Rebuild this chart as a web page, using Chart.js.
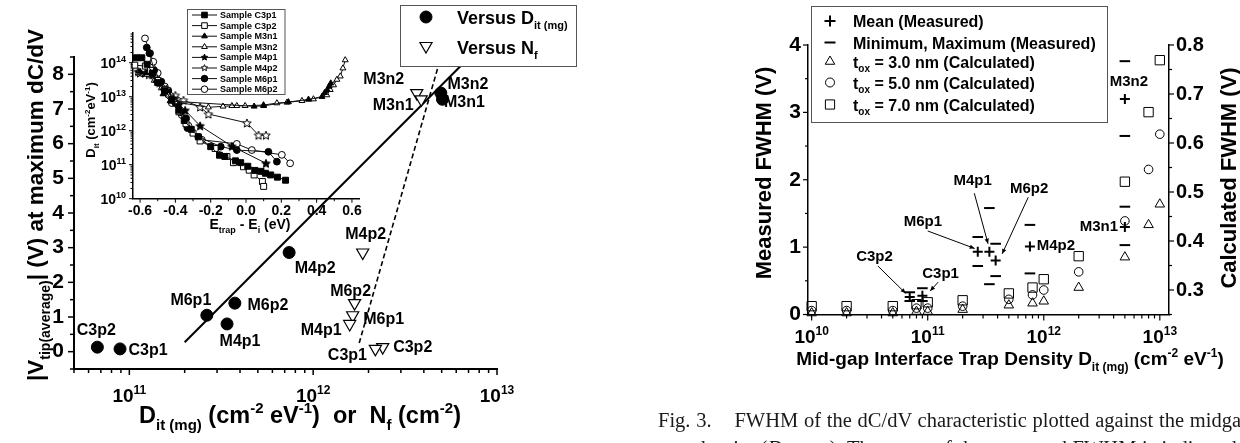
<!DOCTYPE html>
<html>
<head>
<meta charset="utf-8">
<title>Vtip and FWHM versus interface trap density</title>
<script src="https://cdn.jsdelivr.net/npm/chart.js@4.4.1/dist/chart.umd.min.js"></script>
<style>
  html, body { margin: 0; padding: 0; background: #fff; }
  body { width: 1240px; height: 443px; overflow: hidden; position: relative; }
  canvas { position: absolute; left: 0; top: 0; }
  #caption { position: absolute; left: 658px; top: 406px; font-family: "Liberation Serif", "Times New Roman", serif;
             font-size: 20.5px; word-spacing: 0.6px; line-height: 28px; color: #1a1a1a; white-space: nowrap; }
</style>
</head>
<body>
<canvas id="vtipChart" width="1240" height="443"></canvas>
<canvas id="dosChart" width="1240" height="443"></canvas>
<canvas id="fwhmChart" width="1240" height="443"></canvas>
<div id="caption">Fig. 3.&nbsp;&nbsp;&nbsp;&nbsp;FWHM of the dC/dV characteristic plotted against the midgap interface<br>trap density (<i>D</i><sub>it (mg)</sub>). The mean of the measured FWHM is indicated</div>
<script>
// ---- left panel: |Vtip(average)| at maximum dC/dV ----
const samples = ['C3p2', 'C3p1', 'M6p1', 'M4p1', 'M6p2', 'M4p2', 'M3n2', 'M3n1'];
const ditMg = [6.7e10, 8.9e10, 2.64e11, 3.4e11, 3.75e11, 7.4e11, 4.95e12, 5.05e12];
const nf = [2.39e12, 2.18e12, 1.64e12, 1.58e12, 1.68e12, 1.86e12, 3.66e12, 3.87e12];
const vtip = [0.13, 0.08, 1.05, 0.80, 1.40, 2.86, 7.46, 7.28];
const vtipTicks = [0, 1, 2, 3, 4, 5, 6, 7, 8];
// straight line fits, end points
const fitDitX = [2.0e11, 7.1e12];
const fitDitY = [0.27, 8.5];
const fitNfX = [1.78e12, 4.95e12];
const fitNfY = [0.25, 8.5];

// ---- inset: Dit spectra, [Etrap - Ei (eV), Dit (cm-2 eV-1)] ----
const specC3p1 = [[-0.62,1.4e14],[-0.59,1.4e14],[-0.56,9e13],[-0.53,5e13],[-0.5,2.6e13],[-0.46,1.5e13],[-0.42,8e12],[-0.38,4e12],[-0.35,2e12],[-0.31,1.1e12],[-0.27,6.6e11],[-0.2,3.4e11],[-0.15,1.9e11],[-0.12,1.75e11],[-0.06,1.3e11],[-0.03,1.15e11],[0.01,9e10],[0.05,6.8e10],[0.085,6.4e10],[0.11,5.6e10],[0.14,5e10],[0.178,4.3e10],[0.224,3.5e10]];
const specC3p2 = [[-0.63,8.5e13],[-0.57,8e13],[-0.54,6e13],[-0.5,3e13],[-0.46,1.6e13],[-0.42,8e12],[-0.38,3.6e12],[-0.34,1.6e12],[-0.3,8.5e11],[-0.26,5e11],[-0.175,3e11],[-0.108,1.75e11],[-0.071,1.15e11],[-0.014,8.7e10],[0.018,6.9e10],[0.046,5e10],[0.093,3.2e10],[0.1,2.3e10]];
const specM3n1 = [[-0.6,5.5e13],[-0.56,5e13],[-0.51,3e13],[-0.47,1.2e13],[-0.43,7.5e12],[0.046,5.2e12],[0.1,5.4e12],[0.24,7e12],[0.354,8.3e12],[0.43,1e13],[0.445,1.3e13],[0.46,1.6e13],[0.47,2e13],[0.48,2.5e13]];
const specM3n2 = [[-0.61,5e13],[-0.56,4.5e13],[-0.52,3e13],[-0.48,1.8e13],[-0.44,1.1e13],[-0.4,7e12],[-0.213,4.9e12],[-0.13,5.2e12],[-0.08,5.4e12],[-0.052,5.4e12],[-0.005,5.4e12],[0.099,5.7e12],[0.175,6.5e12],[0.232,6.8e12],[0.317,7.6e12],[0.382,8.5e12],[0.458,1.12e13],[0.477,1.6e13],[0.496,2.2e13],[0.515,3.2e13],[0.534,4e13],[0.549,6.9e13],[0.562,1.2e14]];
const specM4p1 = [[-0.61,5.5e13],[-0.57,5e13],[-0.53,4.5e13],[-0.49,2.6e13],[-0.45,1.5e13],[-0.41,9e12],[-0.38,6e12],[-0.345,4e12],[-0.26,1.4e12],[-0.08,3.5e11],[0.113,1.1e11]];
const specM4p2 = [[-0.6,5e13],[-0.55,4.5e13],[-0.5,3e13],[-0.45,1.7e13],[-0.4,1.1e13],[-0.354,7.9e12],[-0.26,5e12],[-0.213,3.1e12],[0.005,1.7e12],[0.071,7.4e11],[0.113,7.4e11]];
const specM6p1 = [[-0.562,2.8e14],[-0.547,1.9e14],[-0.52,6e13],[-0.48,2.8e13],[-0.44,1.5e13],[-0.4,6.5e12],[-0.37,3.5e12],[-0.339,2.3e12],[-0.332,1.2e12],[-0.27,6.6e11],[-0.143,3.4e11],[-0.052,2.7e11],[0.127,2.4e11],[0.175,1.23e11]];
const specM6p2 = [[-0.572,5.2e14],[-0.543,1.9e14],[-0.525,1.07e14],[-0.5,5e13],[-0.46,2e13],[-0.42,6.5e12],[-0.364,2.9e12],[-0.326,1.4e12],[-0.25,5.4e11],[-0.052,4.1e11],[0.033,2.7e11],[0.203,1.95e11],[0.25,1.1e11]];
const dosETicks = [-0.6, -0.4, -0.2, 0.0, 0.2, 0.4, 0.6];

// ---- right panel: FWHM of dC/dV ----
const ditGrid = [1e10, 2e10, 5e10, 8e10, 1e11, 2e11, 5e11, 8e11, 1e12, 2e12, 5e12, 8e12, 1e13];
const fwhmCalc30 = [0.253, 0.253, 0.253, 0.256, 0.256, 0.260, 0.269, 0.273, 0.277, 0.305, 0.367, 0.433, 0.475];
const fwhmCalc50 = [0.258, 0.258, 0.258, 0.263, 0.263, 0.267, 0.281, 0.290, 0.300, 0.337, 0.441, 0.546, 0.618];
const fwhmCalc70 = [0.267, 0.267, 0.267, 0.271, 0.275, 0.279, 0.293, 0.305, 0.322, 0.369, 0.521, 0.663, 0.769];
const measSamples = ['C3p2', 'C3p1', 'M6p1', 'M4p1', 'M6p2', 'M4p2', 'M3n1', 'M3n2'];
const measDit = [7.0e10, 9.0e10, 2.7e11, 3.4e11, 3.85e11, 7.6e11, 5e12, 5e12];
const fwhmMean = [0.26, 0.28, 0.93, 0.93, 0.80, 1.01, 1.30, 3.20];
const fwhmMin = [0.20, 0.20, 0.72, 0.45, 0.57, 0.61, 1.03, 2.65];
const fwhmMax = [0.33, 0.39, 1.15, 1.58, 1.05, 1.33, 1.60, 3.76];
const fwhmTicks = [0, 1, 2, 3, 4];
const calcTicks = [0.3, 0.4, 0.5, 0.6, 0.7, 0.8];

// ---------------------------------------------------------------
const FAMILY = '"Liberation Sans", Arial, Helvetica, sans-serif';
const bold = size => 'bold ' + size + 'px ' + FAMILY;
Chart.defaults.font.family = FAMILY;
Chart.defaults.color = '#000';

// text with sub/superscripts, parts: [{t, k: 'sub'|'sup'}]
function drawRich(ctx, parts, x, y, size, align) {
  const items = parts.map(p => {
    const s = p.k ? Math.round(size * 0.62) : size;
    ctx.font = bold(s);
    return { t: p.t, s, w: ctx.measureText(p.t).width, dy: p.k === 'sub' ? size * 0.3 : p.k === 'sup' ? -size * 0.42 : 0 };
  });
  const total = items.reduce((a, b) => a + b.w, 0);
  let cx = align === 'left' ? x : align === 'right' ? x - total : x - total / 2;
  ctx.save();
  ctx.fillStyle = '#000';
  ctx.textAlign = 'left';
  ctx.textBaseline = 'alphabetic';
  items.forEach(it => { ctx.font = bold(it.s); ctx.fillText(it.t, cx, y + it.dy); cx += it.w; });
  ctx.restore();
}
function drawRichUp(ctx, parts, x, y, size) {
  ctx.save();
  ctx.translate(x, y);
  ctx.rotate(-Math.PI / 2);
  drawRich(ctx, parts, 0, 0, size, 'center');
  ctx.restore();
}
const pow10 = v => [{ t: '10' }, { t: String(Math.round(Math.log10(v))), k: 'sup' }];

// tick marks, drawn through the chart scales
function logMarks(scale) {
  const major = [], minor = [];
  const lo = Math.floor(Math.log10(scale.min)), hi = Math.ceil(Math.log10(scale.max));
  for (let e = lo; e <= hi; e++) {
    for (let k = 1; k <= 9; k++) {
      const v = k * Math.pow(10, e);
      if (v >= scale.min * 0.999 && v <= scale.max * 1.001) (k === 1 ? major : minor).push(v);
    }
  }
  return { major, minor };
}
function linMarks(scale, step, minorStep) {
  const major = [], minor = [];
  const n0 = Math.ceil(scale.min / minorStep - 1e-6), n1 = Math.floor(scale.max / minorStep + 1e-6);
  for (let n = n0; n <= n1; n++) {
    const v = n * minorStep, r = v / step;
    (Math.abs(r - Math.round(r)) < 1e-6 ? major : minor).push(v);
  }
  return { major, minor };
}
function drawMarks(chart, id, side, marks, lenMajor, lenMinor, width) {
  const { ctx, chartArea: a } = chart;
  const scale = chart.scales[id];
  ctx.save();
  ctx.strokeStyle = '#000';
  ctx.lineWidth = width;
  const one = (v, len) => {
    const p = scale.getPixelForValue(v);
    ctx.beginPath();
    if (side === 'bottom') { ctx.moveTo(p, a.bottom); ctx.lineTo(p, a.bottom + len); }
    else if (side === 'left') { ctx.moveTo(a.left, p); ctx.lineTo(a.left - len, p); }
    else { ctx.moveTo(a.right, p); ctx.lineTo(a.right + len, p); }
    ctx.stroke();
  };
  marks.major.forEach(v => one(v, lenMajor));
  marks.minor.forEach(v => one(v, lenMinor));
  ctx.restore();
}

// marker shapes for hand drawn legends
function starPath(g, cx, cy, r) {
  g.beginPath();
  for (let i = 0; i < 10; i++) {
    const rr = i % 2 ? r * 0.45 : r;
    const ang = -Math.PI / 2 + i * Math.PI / 5;
    const px = cx + rr * Math.cos(ang), py = cy + rr * Math.sin(ang);
    if (i) g.lineTo(px, py); else g.moveTo(px, py);
  }
  g.closePath();
}
function starImage(filled, r) {
  const size = Math.ceil(r * 2 + 3);
  const c = document.createElement('canvas');
  c.width = size; c.height = size;
  const g = c.getContext('2d');
  starPath(g, size / 2, size / 2 + 0.5, r);
  g.fillStyle = filled ? '#000' : '#fff';
  g.fill();
  g.lineWidth = 1;
  g.strokeStyle = '#000';
  g.stroke();
  return c;
}
function drawSymbol(ctx, kind, x, y, r, filled, lw) {
  ctx.save();
  ctx.strokeStyle = '#000';
  ctx.fillStyle = filled ? '#000' : '#fff';
  ctx.lineWidth = lw || 1;
  ctx.beginPath();
  if (kind === 'circle') ctx.arc(x, y, r, 0, Math.PI * 2);
  else if (kind === 'rect') ctx.rect(x - r * 0.707, y - r * 0.707, r * 1.414, r * 1.414);
  else if (kind === 'triangle') { ctx.moveTo(x, y - r); ctx.lineTo(x + r * 0.866, y + r / 2); ctx.lineTo(x - r * 0.866, y + r / 2); ctx.closePath(); }
  else if (kind === 'triangleDown') { ctx.moveTo(x, y + r); ctx.lineTo(x + r * 0.866, y - r / 2); ctx.lineTo(x - r * 0.866, y - r / 2); ctx.closePath(); }
  else if (kind === 'star') starPath(ctx, x, y, r);
  else if (kind === 'cross') { ctx.moveTo(x - r, y); ctx.lineTo(x + r, y); ctx.moveTo(x, y - r); ctx.lineTo(x, y + r); ctx.stroke(); ctx.restore(); return; }
  else if (kind === 'line') { ctx.moveTo(x - r, y); ctx.lineTo(x + r, y); ctx.stroke(); ctx.restore(); return; }
  ctx.fill();
  ctx.stroke();
  ctx.restore();
}
function box(ctx, x, y, w, h) {
  ctx.save();
  ctx.fillStyle = '#fff';
  ctx.fillRect(x, y, w, h);
  ctx.strokeStyle = '#555';
  ctx.lineWidth = 1;
  ctx.strokeRect(x, y, w, h);
  ctx.restore();
}

// ---------------- left panel ----------------
const dotLabelShift = [[-1, -17], [28, 2], [-16, -15], [13, 18], [33, 2], [26, 16], [27, -8], [22, 3]];
const triLabelShift = [[30, 0], [-28, 6.5], [31, 4], [-28.5, 7], [-4, -12], [3, -18], [-33, -13], [-28, 6.5]];

const vtipDecor = {
  id: 'vtipDecor',
  afterDraw(chart) {
    const { ctx, scales: { x } } = chart;
    drawMarks(chart, 'x', 'bottom', logMarks(x), 6, 4, 1.5);
    drawMarks(chart, 'y', 'left', linMarks(chart.scales.y, 1, 0.5), 6, 4, 1.5);
    logMarks(x).major.forEach(v => drawRich(ctx, pow10(v), x.getPixelForValue(v), 402, 19, 'center'));

    drawRichUp(ctx, [{ t: '|V' }, { t: 'tip(average)', k: 'sub' }, { t: '| (V) at maximum dC/dV' }], 43, 205, 22.5);
    drawRich(ctx, [{ t: 'D' }, { t: 'it (mg)', k: 'sub' }, { t: ' (cm' }, { t: '-2', k: 'sup' }, { t: ' eV' }, { t: '-1', k: 'sup' },
      { t: ')  or  N' }, { t: 'f', k: 'sub' }, { t: ' (cm' }, { t: '-2', k: 'sup' }, { t: ')' }], 300, 423, 23.5, 'center');

    ctx.save();
    ctx.font = bold(16);
    ctx.fillStyle = '#000';
    ctx.textAlign = 'center';
    ctx.textBaseline = 'middle';
    const dots = chart.getDatasetMeta(0).data, tris = chart.getDatasetMeta(1).data;
    samples.forEach((s, i) => {
      ctx.fillText(s, dots[i].x + dotLabelShift[i][0], dots[i].y + dotLabelShift[i][1]);
      ctx.fillText(s, tris[i].x + triLabelShift[i][0], tris[i].y + triLabelShift[i][1]);
    });
    ctx.restore();

    box(ctx, 400.5, 5.5, 176, 61);
    drawSymbol(ctx, 'circle', 426, 17, 6, true);
    drawRich(ctx, [{ t: 'Versus D' }, { t: 'it (mg)', k: 'sub' }], 457, 23.5, 18, 'left');
    drawSymbol(ctx, 'triangleDown', 426, 46, 7, false, 1.2);
    drawRich(ctx, [{ t: 'Versus N' }, { t: 'f', k: 'sub' }], 457, 53.5, 18, 'left');
  }
};

new Chart(document.getElementById('vtipChart'), {
  type: 'scatter',
  data: {
    datasets: [
      { label: 'Versus Dit(mg)', data: samples.map((s, i) => ({ x: ditMg[i], y: vtip[i] })), pointStyle: 'circle', pointRadius: 6,
        pointBackgroundColor: '#000', pointBorderColor: '#000', pointBorderWidth: 1, clip: false },
      { label: 'Versus Nf', data: samples.map((s, i) => ({ x: nf[i], y: vtip[i] })), pointStyle: 'triangle', pointRotation: 180, pointRadius: 7,
        pointBackgroundColor: '#fff', pointBorderColor: '#000', pointBorderWidth: 1.2, clip: false },
      { label: 'fit Dit', data: fitDitX.map((x, i) => ({ x, y: fitDitY[i] })), showLine: true, borderColor: '#000', borderWidth: 2, pointRadius: 0, clip: false },
      { label: 'fit Nf', data: fitNfX.map((x, i) => ({ x, y: fitNfY[i] })), showLine: true, borderColor: '#000', borderWidth: 1.6, borderDash: [5, 3], pointRadius: 0, clip: false }
    ]
  },
  options: {
    responsive: false,
    animation: false,
    events: [],
    layout: { padding: { left: 0, top: 57, right: 743, bottom: 0 } },
    plugins: { legend: { display: false }, tooltip: { enabled: false } },
    scales: {
      x: {
        type: 'logarithmic', min: 5e10, max: 1e13,
        grid: { display: false, drawTicks: false },
        border: { display: true, color: '#000', width: 2 },
        ticks: { display: false },
        afterFit: s => { s.height = 74; }
      },
      y: {
        type: 'linear', min: -0.5, max: 8.5,
        grid: { display: false, drawTicks: false },
        border: { display: true, color: '#000', width: 2 },
        ticks: { font: { size: 21, weight: 'bold' }, color: '#000', padding: 10, autoSkip: false },
        afterBuildTicks: s => { s.ticks = vtipTicks.map(v => ({ value: v })); },
        afterFit: s => { s.width = 74; }
      }
    }
  },
  plugins: [vtipDecor]
});

// ---------------- inset ----------------
const starFilled = starImage(true, 4.5), starOpen = starImage(false, 4.5);
const spectra = [
  { name: 'Sample C3p1', data: specC3p1, style: 'rect', filled: true },
  { name: 'Sample C3p2', data: specC3p2, style: 'rect', filled: false },
  { name: 'Sample M3n1', data: specM3n1, style: 'triangle', filled: true },
  { name: 'Sample M3n2', data: specM3n2, style: 'triangle', filled: false },
  { name: 'Sample M4p1', data: specM4p1, style: 'star', filled: true },
  { name: 'Sample M4p2', data: specM4p2, style: 'star', filled: false },
  { name: 'Sample M6p1', data: specM6p1, style: 'circle', filled: true },
  { name: 'Sample M6p2', data: specM6p2, style: 'circle', filled: false }
];

const dosDecor = {
  id: 'dosDecor',
  afterDraw(chart) {
    const { ctx, scales: { x, y } } = chart;
    drawMarks(chart, 'x', 'bottom', linMarks(x, 0.2, 0.1), 4, 2.5, 1);
    drawMarks(chart, 'y', 'left', logMarks(y), 4, 2.5, 1);
    ctx.save();
    ctx.font = bold(14);
    ctx.fillStyle = '#000';
    ctx.textAlign = 'center';
    ctx.textBaseline = 'alphabetic';
    dosETicks.forEach(v => ctx.fillText(v.toFixed(1), x.getPixelForValue(v), 215));
    ctx.restore();
    logMarks(y).major.forEach(v => drawRich(ctx, pow10(v), 126, y.getPixelForValue(v) + 5, 14, 'right'));
    drawRich(ctx, [{ t: 'E' }, { t: 'trap', k: 'sub' }, { t: ' - E' }, { t: 'i', k: 'sub' }, { t: ' (eV)' }], 250, 229, 14, 'center');
    drawRichUp(ctx, [{ t: 'D' }, { t: 'it', k: 'sub' }, { t: ' (cm' }, { t: '-2', k: 'sup' }, { t: 'eV' }, { t: '-1', k: 'sup' }, { t: ')' }], 95, 120, 13);

    box(ctx, 187.5, 9.5, 97.5, 85);
    spectra.forEach((s, i) => {
      const ry = 15 + i * 10.6;
      ctx.save();
      ctx.strokeStyle = '#111';
      ctx.lineWidth = 1;
      ctx.beginPath(); ctx.moveTo(192, ry); ctx.lineTo(217, ry); ctx.stroke();
      ctx.restore();
      drawSymbol(ctx, s.style, 204.5, ry, s.style === 'rect' ? 4 : 3.3, s.filled);
      ctx.save();
      ctx.font = bold(9);
      ctx.fillStyle = '#000';
      ctx.textBaseline = 'middle';
      ctx.fillText(s.name, 220, ry + 0.5);
      ctx.restore();
    });
  }
};

new Chart(document.getElementById('dosChart'), {
  type: 'scatter',
  data: {
    datasets: spectra.map(s => ({
      label: s.name,
      data: s.data.map(([e, d]) => ({ x: e, y: d })),
      showLine: true,
      borderColor: '#111',
      borderWidth: 1,
      pointStyle: s.style === 'star' ? (s.filled ? starFilled : starOpen) : s.style,
      pointRadius: s.style === 'rect' ? 4.2 : 3.4,
      pointBackgroundColor: s.filled ? '#000' : '#fff',
      pointBorderColor: '#000',
      pointBorderWidth: 1,
      clip: false
    }))
  },
  options: {
    responsive: false,
    animation: false,
    events: [],
    layout: { padding: { left: 0, top: 33, right: 881, bottom: 0 } },
    plugins: { legend: { display: false }, tooltip: { enabled: false } },
    scales: {
      x: {
        type: 'linear', min: -0.64, max: 0.64,
        grid: { display: false, drawTicks: false },
        border: { display: true, color: '#000', width: 1.5 },
        ticks: { display: false },
        afterFit: s => { s.height = 244.3; }
      },
      y: {
        type: 'logarithmic', min: 1e10, max: 7.5e14,
        grid: { display: false, drawTicks: false },
        border: { display: true, color: '#000', width: 1.5 },
        ticks: { display: false },
        afterFit: s => { s.width = 133; }
      }
    }
  },
  plugins: [dosDecor]
});

// ---------------- right panel ----------------
const callouts = [
  { text: 'C3p2', at: [3.48e10, 0.853], from: [3.72e10, 0.72], to: [6.45e10, 0.315] },
  { text: 'C3p1', at: [1.29e11, 0.60], from: [1.23e11, 0.48], to: [1.05e11, 0.35] },
  { text: 'M6p1', at: [9.1e10, 1.37], from: [1.0e11, 1.24], to: [2.54e11, 0.98] },
  { text: 'M4p1', at: [2.44e11, 1.98], from: [2.52e11, 1.80], to: [3.31e11, 1.05] },
  { text: 'M6p2', at: [7.48e11, 1.87], from: [7.35e11, 1.74], to: [4.38e11, 0.90] }
];
const plainLabels = [
  { text: 'M4p2', at: [8.7e11, 1.02], align: 'left' },
  { text: 'M3n1', at: [4.37e12, 1.30], align: 'right' },
  { text: 'M3n2', at: [5.42e12, 3.455], align: 'center' }
];

const fwhmDecor = {
  id: 'fwhmDecor',
  afterDraw(chart) {
    const { ctx, scales: { x, y, y2 } } = chart;
    drawMarks(chart, 'x', 'bottom', logMarks(x), 6, 4, 1.2);
    drawMarks(chart, 'y', 'left', linMarks(y, 1, 0.5), 5, 3, 1.2);
    drawMarks(chart, 'y2', 'right', linMarks(y2, 0.1, 0.05), 5, 3, 1.2);
    logMarks(x).major.forEach(v => drawRich(ctx, pow10(v), x.getPixelForValue(v), 343, 19, 'center'));

    drawRichUp(ctx, [{ t: 'Measured FWHM (V)' }], 771, 173, 22);
    drawRichUp(ctx, [{ t: 'Calculated FWHM (V)' }], 1236, 178, 22);
    drawRich(ctx, [{ t: 'Mid-gap Interface Trap Density D' }, { t: 'it (mg)', k: 'sub' }, { t: ' (cm' }, { t: '-2', k: 'sup' },
      { t: ' eV' }, { t: '-1', k: 'sup' }, { t: ')' }], 1010, 365, 19, 'center');

    ctx.save();
    ctx.font = bold(15);
    ctx.fillStyle = '#000';
    ctx.strokeStyle = '#000';
    ctx.lineWidth = 1;
    ctx.textBaseline = 'middle';
    callouts.forEach(c => {
      const tx = x.getPixelForValue(c.at[0]), ty = y.getPixelForValue(c.at[1]);
      ctx.textAlign = 'center';
      ctx.fillText(c.text, tx, ty);
      const x1 = x.getPixelForValue(c.from[0]), y1 = y.getPixelForValue(c.from[1]);
      const x2 = x.getPixelForValue(c.to[0]), y2p = y.getPixelForValue(c.to[1]);
      ctx.beginPath(); ctx.moveTo(x1, y1); ctx.lineTo(x2, y2p); ctx.stroke();
      const ang = Math.atan2(y2p - y1, x2 - x1);
      ctx.beginPath();
      ctx.moveTo(x2, y2p);
      ctx.lineTo(x2 - 5 * Math.cos(ang) + 2.2 * Math.sin(ang), y2p - 5 * Math.sin(ang) - 2.2 * Math.cos(ang));
      ctx.lineTo(x2 - 5 * Math.cos(ang) - 2.2 * Math.sin(ang), y2p - 5 * Math.sin(ang) + 2.2 * Math.cos(ang));
      ctx.closePath(); ctx.fill();
    });
    plainLabels.forEach(l => {
      ctx.textAlign = l.align;
      ctx.fillText(l.text, x.getPixelForValue(l.at[0]), y.getPixelForValue(l.at[1]));
    });
    ctx.restore();

    box(ctx, 811.5, 6.5, 296, 116);
    const rows = [
      { sym: 'cross', parts: [{ t: 'Mean (Measured)' }] },
      { sym: 'line', parts: [{ t: 'Minimum, Maximum (Measured)' }] },
      { sym: 'triangle', parts: [{ t: 't' }, { t: 'ox', k: 'sub' }, { t: ' = 3.0 nm (Calculated)' }] },
      { sym: 'circle', parts: [{ t: 't' }, { t: 'ox', k: 'sub' }, { t: ' = 5.0 nm (Calculated)' }] },
      { sym: 'rect', parts: [{ t: 't' }, { t: 'ox', k: 'sub' }, { t: ' = 7.0 nm (Calculated)' }] }
    ];
    const rowY = [21, 42.5, 61.5, 82.5, 104.5];
    rows.forEach((r, i) => {
      const lw = (r.sym === 'cross' || r.sym === 'line') ? 2 : 1;
      const rad = r.sym === 'rect' ? 6.5 : r.sym === 'circle' ? 4.5 : 5.5;
      drawSymbol(ctx, r.sym, 830, rowY[i], rad, false, lw);
      drawRich(ctx, r.parts, 853, rowY[i] + 6, 16, 'left');
    });
  }
};

const openPoint = { pointBackgroundColor: 'rgba(0,0,0,0)', pointBorderColor: '#000', pointBorderWidth: 1, clip: false };
new Chart(document.getElementById('fwhmChart'), {
  type: 'scatter',
  data: {
    datasets: [
      { label: 'Mean (Measured)', data: measDit.map((d, i) => ({ x: d, y: fwhmMean[i] })), pointStyle: 'cross', pointRadius: 5,
        pointBorderColor: '#000', pointBorderWidth: 2, clip: false },
      { label: 'Minimum (Measured)', data: measDit.map((d, i) => ({ x: d, y: fwhmMin[i] })), pointStyle: 'line', pointRadius: 5.3,
        pointBorderColor: '#000', pointBorderWidth: 2, clip: false },
      { label: 'Maximum (Measured)', data: measDit.map((d, i) => ({ x: d, y: fwhmMax[i] })), pointStyle: 'line', pointRadius: 5.3,
        pointBorderColor: '#000', pointBorderWidth: 2, clip: false },
      Object.assign({ label: 'tox = 3.0 nm', yAxisID: 'y2', data: ditGrid.map((d, i) => ({ x: d, y: fwhmCalc30[i] })), pointStyle: 'triangle', pointRadius: 5.5 }, openPoint),
      Object.assign({ label: 'tox = 5.0 nm', yAxisID: 'y2', data: ditGrid.map((d, i) => ({ x: d, y: fwhmCalc50[i] })), pointStyle: 'circle', pointRadius: 4.3 }, openPoint),
      Object.assign({ label: 'tox = 7.0 nm', yAxisID: 'y2', data: ditGrid.map((d, i) => ({ x: d, y: fwhmCalc70[i] })), pointStyle: 'rect', pointRadius: 6.6 }, openPoint)
    ]
  },
  options: {
    responsive: false,
    animation: false,
    events: [],
    layout: { padding: { left: 0, top: 45, right: 0, bottom: 0 } },
    plugins: { legend: { display: false }, tooltip: { enabled: false } },
    scales: {
      x: {
        type: 'logarithmic', min: 9.3e9, max: 1.2e13,
        grid: { display: false, drawTicks: false },
        border: { display: true, color: '#000', width: 1.5 },
        ticks: { display: false },
        afterFit: s => { s.height = 128.5; }
      },
      y: {
        type: 'linear', position: 'left', min: 0, max: 4,
        grid: { display: false, drawTicks: false },
        border: { display: true, color: '#000', width: 1.5 },
        ticks: { font: { size: 21, weight: 'bold' }, color: '#000', padding: 7, autoSkip: false },
        afterBuildTicks: s => { s.ticks = fwhmTicks.map(v => ({ value: v })); },
        afterFit: s => { s.width = 808; }
      },
      y2: {
        type: 'linear', position: 'right', min: 0.25, max: 0.8,
        grid: { display: false, drawTicks: false },
        border: { display: true, color: '#000', width: 1.5 },
        ticks: { font: { size: 20, weight: 'bold' }, color: '#000', padding: 7, autoSkip: false, callback: v => v.toFixed(1) },
        afterBuildTicks: s => { s.ticks = calcTicks.map(v => ({ value: v })); },
        afterFit: s => { s.width = 71; }
      }
    }
  },
  plugins: [fwhmDecor]
});
</script>
</body>
</html>
